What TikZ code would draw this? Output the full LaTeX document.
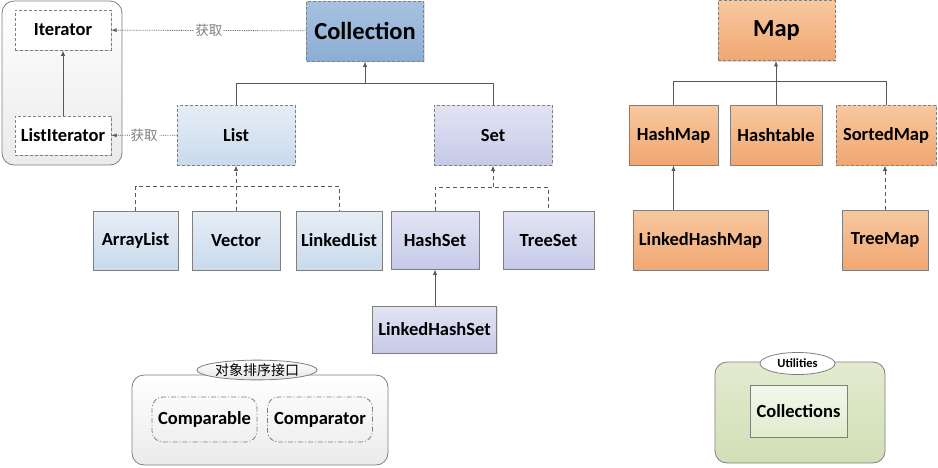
\documentclass[tikz,border=0pt]{standalone}
\usepackage{fontspec}
\setmainfont{Carlito}
\newfontfamily\cjk{Noto Sans CJK SC}
\usepackage{tikz}
\usetikzlibrary{arrows,shadows,shapes.geometric,positioning,calc}

\definecolor{linegray}{HTML}{7F7F7F}
\definecolor{linkgray}{HTML}{595959}
\definecolor{colltop}{HTML}{A7C2E0}
\definecolor{collbot}{HTML}{8CADD4}
\definecolor{listtop}{HTML}{E6EEF7}
\definecolor{listbot}{HTML}{C9DAEC}
\definecolor{settop}{HTML}{E2E4F3}
\definecolor{setbot}{HTML}{C6CAE8}
\definecolor{maptop}{HTML}{F8C8A0}
\definecolor{mapbot}{HTML}{F0A771}
\definecolor{utiltop}{HTML}{E2EBCF}
\definecolor{utilbot}{HTML}{D2DFB6}

\tikzset{
  box/.style={draw=linegray, line width=0.8pt, inner sep=2pt,
    font=\bfseries\fontsize{18.5}{20}\selectfont,
    drop shadow={opacity=.25, shadow xshift=1.2pt, shadow yshift=-1.2pt}},
  iface/.style={box, dash pattern=on 3pt off 2pt},
  listbox/.style={top color=listtop, bottom color=listbot},
  setbox/.style={top color=settop, bottom color=setbot},
  mapbox/.style={top color=maptop, bottom color=mapbot},
  bigfont/.style={font=\bfseries\fontsize{24.5}{26}\selectfont},
  link/.style={draw=linkgray, line width=0.9pt},
  up/.style={link, -latex},
  dup/.style={link, dash pattern=on 4pt off 3pt, -latex},
  fetch/.style={draw=linkgray, line width=0.8pt, densely dotted, -latex},
  fetchtext/.style={fill=white, inner sep=1pt, text=gray, font=\cjk\fontsize{13.5}{15}\selectfont},
  group/.style={draw=linegray, line width=0.8pt, rounded corners=12pt},
  grouptag/.style={ellipse, draw=linegray, line width=0.8pt, inner sep=0.5pt},
  cmpbox/.style={draw=linegray, line width=0.8pt, rounded corners=11pt, dash pattern=on 5pt off 2pt on 1pt off 2pt,
    minimum width=105pt, minimum height=45pt, font=\bfseries\fontsize{18.5}{20}\selectfont}
}

\begin{document}
\begin{tikzpicture}[x=1pt,y=-1pt]
\useasboundingbox (0,0) rectangle (938,467);

\draw[group, top color=white, bottom color=black!8] (2,1) rectangle (122,165);
\node[box, fill=white, dash pattern=on 3pt off 2pt, minimum width=96pt, minimum height=40pt] (Iterator) at (63,30) {Iterator};
\node[box, fill=white, dash pattern=on 3pt off 2pt, minimum width=96pt, minimum height=39pt] (ListIterator) at (63,135.5) {ListIterator};
\draw[up] (ListIterator) -- (Iterator);

\node[iface, bigfont, top color=colltop, bottom color=collbot, minimum width=117pt, minimum height=60pt] (Collection) at (365,31) {Collection};
\node[iface, listbox, minimum width=118pt, minimum height=60pt] (List) at (236,135) {List};
\node[iface, setbox, minimum width=118pt, minimum height=60pt] (Set) at (493,135) {Set};

\draw[fetch] (Collection) -- node[fetchtext]{获取} (Iterator);
\draw[fetch] (List) -- node[fetchtext]{获取} (ListIterator);

\coordinate (collbar) at (0,83);
\draw[link] (List.north) -- (List.north |- collbar) -- (Set.north |- collbar) -- (Set.north);
\draw[up] (Collection.south |- collbar) -- (Collection.south);

\node[box, listbox, minimum width=85pt, minimum height=59pt] (ArrayList) at (135.5,240.5) {ArrayList};
\node[box, listbox, minimum width=88pt, minimum height=59pt] (Vector) at (236,240.5) {Vector};
\node[box, listbox, minimum width=86pt, minimum height=59pt] (LinkedList) at (339,240.5) {LinkedList};
\coordinate (listbar) at (0,186);
\draw[link, dash pattern=on 4pt off 3pt] (ArrayList.north) -- (ArrayList.north |- listbar) -- (LinkedList.north |- listbar) -- (LinkedList.north);
\draw[dup] (Vector.north) -- (List.south);

\node[box, setbox, minimum width=88pt, minimum height=58pt] (HashSet) at (435,240) {HashSet};
\node[box, setbox, minimum width=91pt, minimum height=58pt] (TreeSet) at (548.5,240) {TreeSet};
\node[box, setbox, minimum width=124pt, minimum height=47pt] (LinkedHashSet) at (434.5,329.5) {LinkedHashSet};
\coordinate (setbar) at (0,187);
\draw[link, dash pattern=on 4pt off 3pt] (HashSet.north) -- (HashSet.north |- setbar) -- (TreeSet.north |- setbar) -- (TreeSet.north);
\draw[dup] (Set.south |- setbar) -- (Set.south);
\draw[up] (LinkedHashSet.north -| HashSet) -- (HashSet.south);

\node[iface, bigfont, mapbox, minimum width=117pt, minimum height=60pt] (Map) at (776.5,30.5) {Map};
\node[box, mapbox, minimum width=89pt, minimum height=60pt] (HashMap) at (673.5,135) {HashMap};
\node[box, mapbox, minimum width=92pt, minimum height=60pt] (Hashtable) at (776,135) {Hashtable};
\node[iface, mapbox, minimum width=100pt, minimum height=60pt] (SortedMap) at (886,135) {SortedMap};
\coordinate (mapbar) at (0,81);
\draw[link] (HashMap.north) -- (HashMap.north |- mapbar) -- (SortedMap.north |- mapbar) -- (SortedMap.north);
\draw[up] (Hashtable.north) -- (Hashtable.north |- Map.south);

\node[box, mapbox, minimum width=135pt, minimum height=60pt] (LinkedHashMap) at (700.5,240) {LinkedHashMap};
\node[box, mapbox, minimum width=86pt, minimum height=60pt] (TreeMap) at (885,240) {TreeMap};
\draw[up] (LinkedHashMap.north -| HashMap) -- (HashMap.south);
\draw[dup] (TreeMap.north) -- (TreeMap.north |- SortedMap.south);

\draw[group, top color=white, bottom color=black!8] (132,375) rectangle (388,465);
\node[grouptag, top color=white, bottom color=black!10, minimum width=100pt, minimum height=17pt, font=\cjk\fontsize{14}{15}\selectfont] (sorttag) at (257,370) {对象排序接口};
\node[cmpbox] (Comparable) at (204.5,419.5) {Comparable};
\node[cmpbox] (Comparator) at (320,419.5) {Comparator};

\draw[group, top color=utiltop, bottom color=utilbot] (715,362) rectangle (885,463);
\node[grouptag, fill=white, minimum width=75pt, minimum height=22pt, font=\bfseries\fontsize{12.5}{14}\selectfont] (utiltag) at (797.5,363.5) {Utilities};
\node[draw=linegray, line width=0.8pt, top color=white!60!utiltop, bottom color=utiltop, minimum width=97pt, minimum height=52pt, font=\bfseries\fontsize{18.5}{20}\selectfont] (Collections) at (798.5,411) {Collections};
\end{tikzpicture}
\end{document}
